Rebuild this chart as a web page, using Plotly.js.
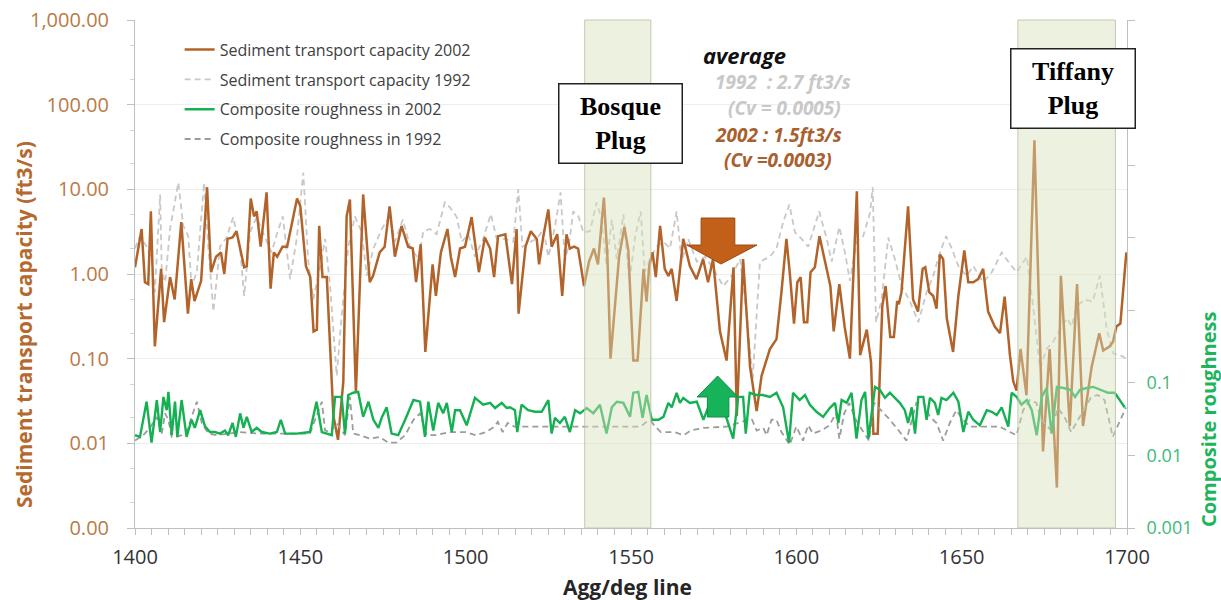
<!DOCTYPE html>
<html>
<head>
<meta charset="utf-8">
<script src="https://cdn.plot.ly/plotly-3.0.1.min.js"></script>
<style>
  html, body { margin: 0; padding: 0; background: #ffffff; }
  #chart { width: 1221px; height: 600px; }
</style>
</head>
<body>
<div id="chart"></div>
<script>
// Sediment transport capacity, 2002 survey (ft3/s) along the agg/deg lines
const xSed2002 = [1400,1401.5,1402,1403,1404,1404.8,1406,1407.9,1408.8,1410.6,1412,1414,1416,1417,1418,1420,1421.8,1423,1424.5,1426,1427,1428,1429.5,1430.7,1433,1433.8,1435,1436,1436.8,1438,1439.8,1441,1442,1443,1444.6,1446,1449,1450,1451.7,1453,1454,1455,1455.7,1456.7,1458,1460,1461.4,1463,1464,1465,1466.8,1469,1471,1472,1474,1475.5,1477,1478.6,1480.6,1482.6,1484,1485,1486.4,1487.8,1490,1491,1492.5,1494.5,1495.5,1496.8,1498.3,1499.8,1501.8,1504,1505.8,1507.4,1508.6,1509.8,1512,1514,1515.4,1516,1518.1,1519.7,1521.5,1522.2,1523.5,1525,1526,1527.7,1529.2,1530.5,1531.5,1532.8,1534,1535.8,1537.3,1538.8,1540,1541.8,1542.9,1543.8,1545.4,1546.4,1548,1549.2,1550.7,1552,1553.8,1554.7,1555.5,1556.5,1557.5,1558.8,1560.2,1561.3,1562.3,1563.8,1565.8,1567.8,1569.8,1571.8,1573.3,1574.8,1576.9,1578.9,1581,1582,1583.9,1586,1588,1589.5,1592,1594,1595.5,1597,1598,1599.3,1600.3,1601.3,1602.3,1603.3,1604.3,1605.6,1607,1608.6,1610.3,1611.3,1613,1614.6,1616.2,1618.3,1619.3,1621.3,1622.6,1623.3,1624.6,1626,1627,1628.4,1629.5,1630.5,1631,1631.8,1633.8,1635.3,1636.8,1638.2,1639,1640.2,1641.4,1642.4,1643.4,1644.4,1645.5,1647.4,1649,1650.8,1652,1653.5,1655,1656.5,1658,1660,1661.6,1663,1664.6,1665.6,1666.6,1667.8,1669.6,1672,1674.6,1676.6,1678.8,1680,1682.7,1684.9,1686.7,1689.3,1691.6,1692.8,1694.8,1695.8,1696.8,1698,1699.8];
const ySed2002 = [1.2,2.8,3.4,0.8,0.76,5.5,0.14,1.15,0.27,0.92,0.5,4.1,0.34,0.87,0.48,0.83,10.6,1.05,1.6,1.8,1.0,2.6,2.7,3.2,1.2,1.24,7.8,4.8,5.5,2.1,9.2,0.67,1.8,1.6,2.1,2.1,7.8,6.3,1.24,0.92,0.21,0.22,3.7,0.92,0.92,0.021,0.011,0.054,4.8,7.6,0.04,8.7,0.8,0.95,1.8,2.1,6.3,1.6,3.7,2.1,2.0,0.8,2.25,0.12,1.3,0.55,1.8,3.4,1.6,0.92,2.0,2.1,4.7,1.05,2.7,2.0,0.92,2.8,2.95,0.76,3.4,0.34,2.1,3.2,2.6,1.3,2.8,5.8,2.1,2.95,0.55,2.95,2.0,2.1,2.0,0.72,1.4,2.0,1.3,8.0,1.5,0.1,0.55,1.6,3.6,1.9,0.095,0.095,1.15,0.47,1.24,1.8,0.92,3.7,1.15,0.95,1.15,0.48,2.6,1.24,0.87,1.5,0.8,1.5,0.21,0.095,1.2,0.021,1.5,0.08,0.024,0.063,0.13,0.17,0.61,2.6,1.05,0.26,0.8,0.92,0.27,0.27,1.05,1.2,2.8,1.5,0.72,0.21,0.76,0.24,0.1,9.5,0.11,0.22,0.09,0.013,0.013,0.42,0.72,0.18,0.18,0.48,0.44,0.61,6.3,0.5,0.36,1.15,1.2,0.61,0.55,0.39,1.7,1.5,0.3,0.12,0.55,1.9,0.8,0.8,0.87,1.15,0.36,0.24,0.2,0.54,0.11,0.054,0.042,0.13,0.037,38,0.008,0.13,0.003,0.95,0.016,0.76,0.016,0.08,0.2,0.125,0.14,0.16,0.24,0.26,1.8];

// Sediment transport capacity, 1992 survey (ft3/s)
const xSed1992 = [1400,1401.5,1403.5,1405,1406,1407.6,1408.1,1409.1,1410.6,1413.1,1414.6,1416.1,1417.1,1418.7,1420.9,1422.2,1423.7,1424.7,1425.7,1427.7,1429.7,1431.8,1433,1434.8,1436.8,1439.3,1441.3,1442.9,1444.7,1446.9,1448.9,1450.9,1452.4,1453.9,1455.9,1457.5,1459,1461,1462.5,1464.5,1466.5,1468.6,1470.1,1472.1,1474.6,1477.1,1478.6,1481,1483.2,1485.7,1487.2,1489.2,1491.2,1493.7,1495.3,1497.3,1498.8,1500.8,1502.8,1505.3,1507.6,1509.4,1511.9,1514.4,1515.9,1517.2,1519.5,1521.5,1523.5,1525,1527,1528.7,1530,1531.5,1532.5,1534.1,1535.6,1537.6,1539.6,1541.1,1542.6,1544.2,1545.7,1547.7,1549.5,1551.2,1552.9,1554.2,1555.7,1557.8,1559.8,1561.8,1563.8,1565.3,1567.3,1569.9,1572.4,1574.9,1577.9,1580.4,1583,1585,1586.8,1589,1592,1594,1596,1597.9,1599.6,1601.6,1603.6,1606.9,1609.2,1610.7,1613,1614.7,1616.2,1618.2,1620.2,1622.3,1623.1,1624.1,1625.8,1627.8,1629.8,1631.9,1634.4,1636.9,1639.4,1641.4,1643.4,1645.3,1647,1649,1651.5,1653.5,1656.5,1659.1,1662.1,1664.1,1666.6,1669.7,1671.7,1673.7,1675.7,1677.7,1679.7,1681.8,1683.3,1684.8,1687.3,1689.6,1691.8,1693.9,1695.9,1697.9,1699.9];
const ySed1992 = [2.0,2.8,2.1,1.5,0.61,8.7,1.05,0.8,3.4,12,3.7,2.8,0.72,1.05,12,2.0,0.36,0.95,2.1,2.7,4.7,2.0,0.55,3.1,4.7,2.7,1.8,2.95,4.8,0.87,2.6,15.8,1.4,0.5,1.15,2.6,0.72,0.063,0.32,2.1,4.8,3.1,0.95,2.0,3.4,4.8,2.4,4.4,2.1,1.5,3.2,3.4,2.95,7.0,6.1,4.7,2.4,2.95,1.6,2.6,5.1,2.6,2.6,2.4,10,2.1,2.4,2.6,3.4,1.6,3.6,9.2,1.4,2.6,5.5,4.8,3.1,3.2,7.0,4.4,1.24,4.4,1.5,5.1,0.8,2.7,5.5,1.05,1.5,2.1,2.4,2.0,5.5,1.4,2.6,1.4,1.6,1.15,0.72,0.95,1.5,0.32,0.058,1.4,1.6,2.0,4.1,6.6,3.1,2.6,2.1,5.5,2.6,1.4,3.6,1.8,0.83,2.4,2.8,5.3,10.6,0.27,0.5,2.7,1.5,0.72,0.47,0.27,0.61,0.95,1.8,2.8,2.0,1.24,0.95,1.24,0.8,1.05,1.8,1.4,1.05,1.6,0.39,0.076,0.13,0.16,0.22,0.3,0.24,0.42,0.5,0.47,0.95,0.22,0.115,0.11,0.1];

// Composite roughness, 2002 survey
const xRough2002 = [1400,1401.5,1403.5,1405,1406.6,1407.6,1408.6,1409.6,1410.1,1411.1,1412.1,1412.8,1414.1,1415.6,1417.1,1418.1,1419.7,1421.2,1422.7,1424.2,1425.7,1427.2,1428.2,1429.5,1430.5,1431.8,1432.8,1433.8,1435.3,1436.8,1438.3,1440.8,1442.9,1444.1,1445.4,1448.9,1452.9,1454.9,1456.5,1458,1459.5,1460.5,1462.5,1463.5,1464.5,1466,1467.5,1469,1470.6,1472.1,1473.6,1474.6,1476.1,1477.6,1479.6,1481.7,1484.2,1486.2,1487.7,1488.7,1490.2,1491.7,1493.2,1494.3,1495.8,1496.8,1498.3,1500.3,1502.8,1505.3,1507.4,1508.9,1510.9,1512.4,1513.4,1514.9,1515.6,1516.9,1518.9,1521,1523,1525,1526,1527,1528.5,1530,1531.5,1533.1,1534.6,1536.6,1538.6,1540.6,1542.6,1544.2,1545.7,1547.7,1549.7,1550.7,1552.2,1553.5,1554.7,1556.3,1558.3,1559.8,1561.3,1562.3,1563.8,1564.8,1565.8,1567.8,1569.9,1571.9,1573.9,1577.9,1580.9,1582.4,1583.9,1584.7,1585.9,1587.9,1589.9,1592,1594,1596,1597.8,1599,1601,1602.6,1604.1,1606.1,1608.1,1610.1,1611.7,1612.7,1613.7,1615.2,1616.7,1618.2,1619.7,1620.8,1621.8,1623.8,1625.3,1626.8,1628.3,1629.8,1631.3,1632.8,1633.8,1634.9,1635.9,1636.9,1638.4,1639.4,1640.4,1641.9,1642.9,1643.9,1645.4,1647.5,1649,1650.5,1652,1653.5,1655.5,1657.6,1659.1,1660.6,1662.1,1664.1,1665.1,1666.6,1668.1,1669.7,1671.2,1672.7,1674.2,1675.7,1677.2,1678.8,1680.8,1682.8,1684.3,1685.8,1687.8,1689.8,1692.3,1694.3,1696.3,1697.8,1699.3];
const yRough2002 = [0.019,0.018,0.055,0.015,0.058,0.021,0.064,0.042,0.075,0.019,0.055,0.018,0.058,0.018,0.031,0.024,0.042,0.025,0.021,0.021,0.02,0.022,0.019,0.028,0.018,0.038,0.024,0.034,0.021,0.024,0.021,0.02,0.021,0.031,0.02,0.02,0.021,0.055,0.021,0.02,0.019,0.064,0.064,0.02,0.068,0.073,0.075,0.034,0.055,0.031,0.024,0.033,0.046,0.02,0.019,0.031,0.058,0.055,0.018,0.055,0.022,0.053,0.038,0.053,0.021,0.042,0.042,0.026,0.062,0.05,0.053,0.045,0.053,0.045,0.046,0.042,0.021,0.05,0.042,0.04,0.04,0.058,0.02,0.033,0.028,0.034,0.021,0.042,0.038,0.045,0.038,0.05,0.02,0.046,0.055,0.053,0.034,0.073,0.075,0.033,0.068,0.031,0.031,0.034,0.053,0.046,0.073,0.053,0.062,0.053,0.055,0.031,0.053,0.045,0.017,0.064,0.064,0.02,0.073,0.068,0.068,0.064,0.073,0.046,0.015,0.073,0.058,0.068,0.05,0.04,0.034,0.045,0.053,0.028,0.058,0.053,0.073,0.017,0.058,0.075,0.017,0.088,0.08,0.062,0.073,0.062,0.053,0.042,0.028,0.046,0.02,0.064,0.064,0.031,0.062,0.053,0.036,0.062,0.058,0.073,0.055,0.021,0.04,0.031,0.026,0.042,0.04,0.036,0.046,0.025,0.073,0.064,0.05,0.058,0.042,0.019,0.064,0.085,0.02,0.088,0.085,0.08,0.064,0.08,0.085,0.088,0.08,0.073,0.073,0.058,0.046];

// Composite roughness, 1992 survey
const xRough1992 = [1400,1402.5,1404.5,1406.6,1408.1,1409.1,1410.1,1411.1,1412.6,1414.1,1415.6,1418.7,1420.2,1422.2,1424.7,1427.7,1431.8,1437,1445,1452.9,1456.5,1457.5,1459,1461,1463.5,1465,1466,1468,1471,1474,1476.6,1479,1481.7,1484.2,1486.2,1488.2,1491,1495,1498.3,1500,1503,1506.2,1508.7,1509.7,1511.2,1512.7,1514.7,1520,1530,1540,1553,1554.7,1556,1557,1559,1563,1566,1568,1572,1579,1585,1586.5,1588,1590,1591,1592.5,1594,1595.5,1598,1600,1602,1603.6,1605,1607.6,1610,1612,1613,1614.5,1616,1618,1620,1622,1623.5,1625,1628.3,1631.3,1633.3,1636.3,1638.3,1640.4,1642.4,1644.4,1646.4,1648.4,1650.4,1652.5,1657.5,1661.5,1664.6,1666.6,1668.6,1670.6,1672.6,1674.1,1677.1,1679.1,1681.1,1683.1,1685.2,1687.2,1689.2,1691.2,1693.2,1695.7,1697.7,1699.7];
const yRough1992 = [0.016,0.019,0.024,0.034,0.02,0.038,0.031,0.018,0.018,0.019,0.021,0.055,0.028,0.02,0.019,0.02,0.021,0.02,0.02,0.02,0.055,0.022,0.021,0.028,0.019,0.064,0.02,0.019,0.017,0.018,0.015,0.015,0.019,0.031,0.038,0.019,0.019,0.021,0.021,0.021,0.019,0.021,0.025,0.029,0.021,0.028,0.025,0.025,0.025,0.025,0.025,0.029,0.03,0.026,0.021,0.021,0.019,0.022,0.024,0.025,0.031,0.032,0.022,0.024,0.019,0.031,0.031,0.021,0.014,0.025,0.016,0.026,0.02,0.022,0.026,0.038,0.017,0.038,0.053,0.031,0.022,0.016,0.053,0.045,0.031,0.021,0.016,0.053,0.055,0.034,0.028,0.016,0.028,0.042,0.031,0.025,0.025,0.025,0.021,0.019,0.042,0.058,0.053,0.031,0.022,0.045,0.034,0.021,0.031,0.045,0.064,0.068,0.058,0.018,0.028,0.046];

// Axis ticks
const leftTickVals = [0.001, 0.01, 0.1, 1, 10, 100, 1000];
const leftTickText = ['0.00', '0.01', '0.10', '1.00', '10.00', '100.00', '1,000.00'];
const rightTickVals = [0.001, 0.01, 0.1, 1, 10, 100, 1000, 10000];
const rightTickText = ['0.001', '0.01', '0.1', '', '', '', '', ''];

// Plug reaches (agg/deg line ranges)
const plugNames = ['<b>Bosque<br>Plug</b>', '<b>Tiffany<br>Plug</b>'];
const plugStart = [1536, 1667];
const plugEnd = [1556, 1696.5];

const BROWN = '#B2632A';
const GREEN = '#14B052';
const FONT = 'Open Sans, sans-serif';

const traces = [
  { x: xSed1992, y: ySed1992, name: 'Sediment transport capacity 1992', type: 'scatter', mode: 'lines',
    line: { color: '#C8C8C8', width: 1.8, dash: '6px,4px' }, legendrank: 2, legendgroup: 'b' },
  { x: xRough1992, y: yRough1992, name: 'Composite roughness in 1992', type: 'scatter', mode: 'lines', yaxis: 'y2',
    line: { color: '#9C9C9C', width: 1.8, dash: '6px,4px' }, legendrank: 4, legendgroup: 'd' },
  { x: xRough2002, y: yRough2002, name: 'Composite roughness in 2002', type: 'scatter', mode: 'lines', yaxis: 'y2',
    line: { color: GREEN, width: 2.4 }, legendrank: 3, legendgroup: 'c' },
  { x: xSed2002, y: ySed2002, name: 'Sediment transport capacity 2002', type: 'scatter', mode: 'lines',
    line: { color: BROWN, width: 2.5 }, legendrank: 1, legendgroup: 'a' }
];

// Shaded plug reaches, drawn over the lines so they read as a wash
const shapes = plugStart.map((s, i) => ({
  type: 'rect', xref: 'x', yref: 'paper', x0: s, x1: plugEnd[i], y0: 0, y1: 1,
  fillcolor: 'rgba(214,224,184,0.45)', line: { color: 'rgba(190,196,170,0.9)', width: 1 }, layer: 'above'
}));

// Block arrows marking the drop in capacity and the rise in roughness
const downArrow = { x: [1566.9, 1571.2, 1577.2, 1581.4, 1588.1], y: [0.6102, 0.557, 0.5197] };
const upArrow = { x: [1570.0, 1573.1, 1576.2, 1579.6, 1582.4], y: [0.2992, 0.2579, 0.2185] };
shapes.push({
  type: 'path', xref: 'x', yref: 'paper', layer: 'above',
  path: `M${downArrow.x[1]},${downArrow.y[0]} L${downArrow.x[3]},${downArrow.y[0]} L${downArrow.x[3]},${downArrow.y[1]} ` +
        `L${downArrow.x[4]},${downArrow.y[1]} L${downArrow.x[2]},${downArrow.y[2]} L${downArrow.x[0]},${downArrow.y[1]} ` +
        `L${downArrow.x[1]},${downArrow.y[1]} Z`,
  fillcolor: '#C25F18', line: { color: '#9A4A12', width: 1 }
});
shapes.push({
  type: 'path', xref: 'x', yref: 'paper', layer: 'above',
  path: `M${upArrow.x[2]},${upArrow.y[0]} L${upArrow.x[4]},${upArrow.y[1]} L${upArrow.x[3]},${upArrow.y[1]} ` +
        `L${upArrow.x[3]},${upArrow.y[2]} L${upArrow.x[1]},${upArrow.y[2]} L${upArrow.x[1]},${upArrow.y[1]} ` +
        `L${upArrow.x[0]},${upArrow.y[1]} Z`,
  fillcolor: '#17B35A', line: { color: '#0E8E45', width: 1 }
});

const mid = { xanchor: 'center', yanchor: 'middle', showarrow: false, xref: 'paper', yref: 'paper' };
const annotations = [
  // Plug labels
  Object.assign({}, mid, { text: plugNames[0], x: 0.4894, y: 0.7972,
    font: { family: 'Liberation Serif, serif', size: 26, color: '#000' }, bgcolor: '#ffffff',
    bordercolor: '#222', borderwidth: 1.5, borderpad: 0, width: 122, height: 78, align: 'center' }),
  Object.assign({}, mid, { text: plugNames[1], x: 0.9451, y: 0.8661,
    font: { family: 'Liberation Serif, serif', size: 26, color: '#000' }, bgcolor: '#ffffff',
    bordercolor: '#222', borderwidth: 1.5, borderpad: 0, width: 123, height: 78, align: 'center' }),
  // Average capacity notes
  Object.assign({}, mid, { text: '<b><i>average</i></b>', x: 0.6149, y: 0.9311,
    font: { family: FONT, size: 22, color: '#111' } }),
  Object.assign({}, mid, { text: '<b><i>1992  : 2.7 ft3/s</i></b>', x: 0.653, y: 0.878,
    font: { family: FONT, size: 19, color: '#C8C8C8' } }),
  Object.assign({}, mid, { text: '<b><i>(Cv = 0.0005)</i></b>', x: 0.655, y: 0.8268,
    font: { family: FONT, size: 19, color: '#C8C8C8' } }),
  Object.assign({}, mid, { text: '<b><i>2002 : 1.5ft3/s</i></b>', x: 0.6482, y: 0.7736,
    font: { family: FONT, size: 19, color: '#A8602E' } }),
  Object.assign({}, mid, { text: '<b><i>(Cv =0.0003)</i></b>', x: 0.6482, y: 0.7244,
    font: { family: FONT, size: 19, color: '#A8602E' } }),
  // Axis titles
  Object.assign({}, mid, { text: '<b>Sediment transport capacity (ft3/s)</b>', x: -0.1119, y: 0.4016,
    textangle: -90, font: { family: FONT, size: 21, color: '#B5692E' } }),
  Object.assign({}, mid, { text: '<b>Composite roughness</b>', x: 1.0827, y: 0.2126,
    textangle: -90, font: { family: FONT, size: 20, color: '#1DB45C' } }),
  Object.assign({}, mid, { text: '<b>Agg/deg line</b>', x: 0.4965, y: -0.1161,
    font: { family: FONT, size: 21, color: '#262626' } })
];

const layout = {
  width: 1221, height: 600,
  margin: { l: 135, r: 94, t: 20, b: 72 },
  paper_bgcolor: '#ffffff', plot_bgcolor: '#ffffff',
  font: { family: FONT, color: '#333' },
  showlegend: true,
  legend: {
    x: 0.045, y: 0.975, xanchor: 'left', yanchor: 'top',
    bgcolor: 'rgba(0,0,0,0)', font: { family: FONT, size: 16, color: '#404040' },
    tracegroupgap: 6, itemwidth: 30, traceorder: 'grouped'
  },
  xaxis: {
    range: [1400, 1700], dtick: 50, tick0: 1400,
    ticks: 'outside', ticklen: 6, tickcolor: '#BFBFBF',
    minor: { dtick: 5, ticks: 'outside', ticklen: 6, tickcolor: '#BFBFBF', showgrid: false },
    showline: true, linecolor: '#BFBFBF', linewidth: 1,
    showgrid: false, zeroline: false,
    tickfont: { family: FONT, size: 20, color: '#333' }, ticklabelstandoff: 5
  },
  yaxis: {
    type: 'log', range: [-3, 3],
    tickvals: leftTickVals, ticktext: leftTickText,
    ticks: 'outside', ticklen: 7, tickcolor: '#BFBFBF',
    minor: { ticks: 'outside', ticklen: 4, tickcolor: '#D3D3D3', showgrid: false },
    showline: true, linecolor: '#BFBFBF', linewidth: 1,
    showgrid: true, gridcolor: '#EEEEEE', zeroline: false,
    tickfont: { family: FONT, size: 20, color: '#B97B45' }, ticklabelstandoff: 14
  },
  yaxis2: {
    type: 'log', range: [-3, 4], overlaying: 'y', side: 'right',
    tickvals: rightTickVals, ticktext: rightTickText,
    ticks: 'outside', ticklen: 7, tickcolor: '#BFBFBF',
    showline: true, linecolor: '#BFBFBF', linewidth: 1,
    showgrid: false, zeroline: false,
    tickfont: { family: FONT, size: 18, color: '#3DBA78' }, ticklabelstandoff: 8
  },
  shapes: shapes,
  annotations: annotations
};

Plotly.newPlot('chart', traces, layout, { displayModeBar: false, staticPlot: true });
</script>
</body>
</html>
